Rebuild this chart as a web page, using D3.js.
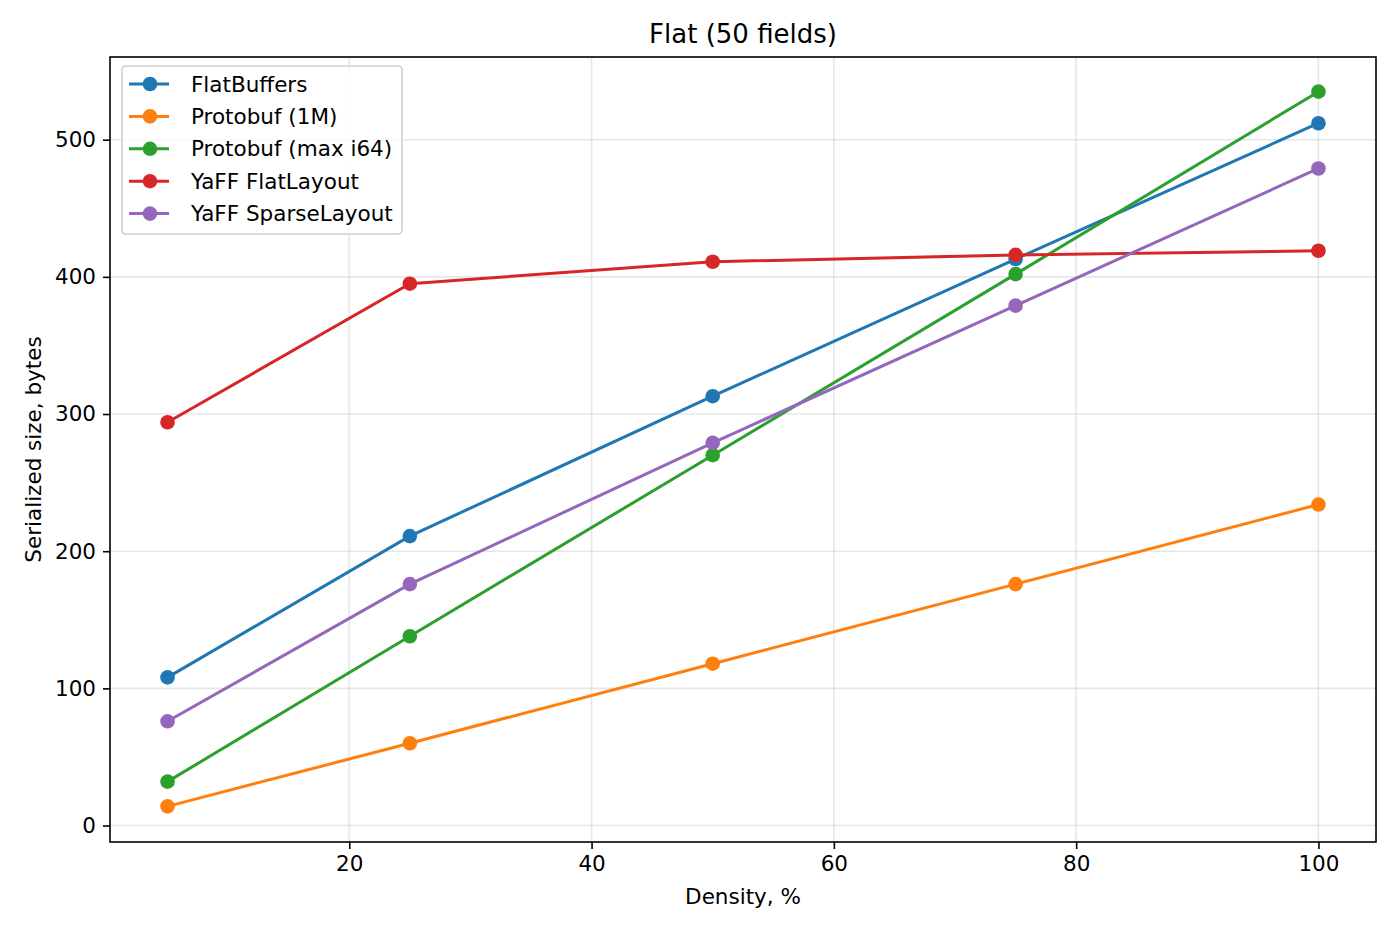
<!DOCTYPE html>
<html>
<head>
<meta charset="utf-8">
<script src="https://d3js.org/d3.v7.min.js"></script>
<style>
  body { margin: 0; background: #fff; }
  svg text { font-family: "DejaVu Sans", sans-serif; fill: #000; }
</style>
</head>
<body>
<div id="chart"></div>
<script>
var width = 1400, height = 932;
var margin = {top: 57, right: 24, bottom: 90, left: 110};

// data
var density = [5, 25, 50, 75, 100];
var seriesNames = ["FlatBuffers", "Protobuf (1M)", "Protobuf (max i64)", "YaFF FlatLayout", "YaFF SparseLayout"];
var seriesColors = ["#1f77b4", "#ff7f0e", "#2ca02c", "#d62728", "#9467bd"];
var flatBuffers = [108, 211, 313, 413, 512];
var protobuf1M = [14, 60, 118, 176, 234];
var protobufMax = [32, 138, 270, 402, 535];
var yaffFlat = [294, 395, 411, 416, 419];
var yaffSparse = [76, 176, 279, 379, 479];
var xTicks = [20, 40, 60, 80, 100];
var yTicks = [0, 100, 200, 300, 400, 500];

var allSeries = [flatBuffers, protobuf1M, protobufMax, yaffFlat, yaffSparse];

var svg = d3.select("#chart")
	.append("svg")
	.attr("width", width)
	.attr("height", height);

var x = d3.scaleLinear()
	.domain([0.25, 104.75])
	.range([margin.left, width - margin.right]);

var y = d3.scaleLinear()
	.domain([-12, 561])
	.range([height - margin.bottom, margin.top - 1]);

// grid
svg.append("g")
	.selectAll("line.vx")
	.data(xTicks)
	.enter().append("line")
	.attr("x1", d => x(d)).attr("x2", d => x(d))
	.attr("y1", margin.top).attr("y2", height - margin.bottom)
	.attr("stroke", "#b0b0b0").attr("stroke-opacity", 0.3).attr("stroke-width", 1.6);

svg.append("g")
	.selectAll("line.hy")
	.data(yTicks)
	.enter().append("line")
	.attr("x1", margin.left).attr("x2", width - margin.right)
	.attr("y1", d => y(d)).attr("y2", d => y(d))
	.attr("stroke", "#b0b0b0").attr("stroke-opacity", 0.3).attr("stroke-width", 1.6);

// axes
var xAxis = svg.append("g")
	.attr("transform", "translate(0," + (height - margin.bottom) + ")")
	.call(d3.axisBottom(x).tickValues(xTicks).tickSize(7).tickPadding(7).tickSizeOuter(0));

var yAxis = svg.append("g")
	.attr("transform", "translate(" + margin.left + ",0)")
	.call(d3.axisLeft(y).tickValues(yTicks).tickSize(7).tickPadding(7).tickSizeOuter(0));

[xAxis, yAxis].forEach(function(a){
	a.select(".domain").remove();
	a.selectAll(".tick line").attr("stroke", "#000").attr("stroke-width", 1.6);
	a.selectAll(".tick text").style("font-size", "21.5px").attr("fill", "#000");
});

// lines and markers
var line = d3.line()
	.x((d, i) => x(density[i]))
	.y(d => y(d));

allSeries.forEach(function(s, k){
	var g = svg.append("g");
	g.append("path")
		.datum(s)
		.attr("d", line)
		.attr("fill", "none")
		.attr("stroke", seriesColors[k])
		.attr("stroke-width", 3);
	g.selectAll("circle")
		.data(s)
		.enter().append("circle")
		.attr("cx", (d, i) => x(density[i]))
		.attr("cy", d => y(d))
		.attr("r", 7.3)
		.attr("fill", seriesColors[k]);
});

// frame
svg.append("rect")
	.attr("x", margin.left).attr("y", margin.top)
	.attr("width", width - margin.left - margin.right)
	.attr("height", height - margin.top - margin.bottom)
	.attr("fill", "none").attr("stroke", "#000").attr("stroke-width", 1.6);

// title and labels
svg.append("text")
	.attr("x", (margin.left + width - margin.right) / 2)
	.attr("y", 43)
	.attr("text-anchor", "middle")
	.style("font-size", "26px")
	.text("Flat (50 fields)");

svg.append("text")
	.attr("x", (margin.left + width - margin.right) / 2)
	.attr("y", 904)
	.attr("text-anchor", "middle")
	.style("font-size", "21.5px")
	.text("Density, %");

svg.append("text")
	.attr("transform", "translate(41," + ((margin.top + height - margin.bottom) / 2) + ") rotate(-90)")
	.attr("text-anchor", "middle")
	.style("font-size", "21.5px")
	.text("Serialized size, bytes");

// legend
var legend = svg.append("g").attr("transform", "translate(122,66)");
legend.append("rect")
	.attr("width", 280).attr("height", 168)
	.attr("rx", 4)
	.attr("fill", "#fff").attr("fill-opacity", 0.8)
	.attr("stroke", "#d0d0d0").attr("stroke-width", 1.6);

var item = legend.selectAll("g.item")
	.data(seriesNames)
	.enter().append("g")
	.attr("transform", (d, i) => "translate(0," + (18 + i * 32.4) + ")");
item.append("line")
	.attr("x1", 7).attr("x2", 47)
	.attr("stroke", (d, i) => seriesColors[i]).attr("stroke-width", 3);
item.append("circle")
	.attr("cx", 28).attr("r", 7.3)
	.attr("fill", (d, i) => seriesColors[i]);
item.append("text")
	.attr("x", 69).attr("dy", "0.35em")
	.style("font-size", "21.5px")
	.text(d => d);
</script>
</body>
</html>
